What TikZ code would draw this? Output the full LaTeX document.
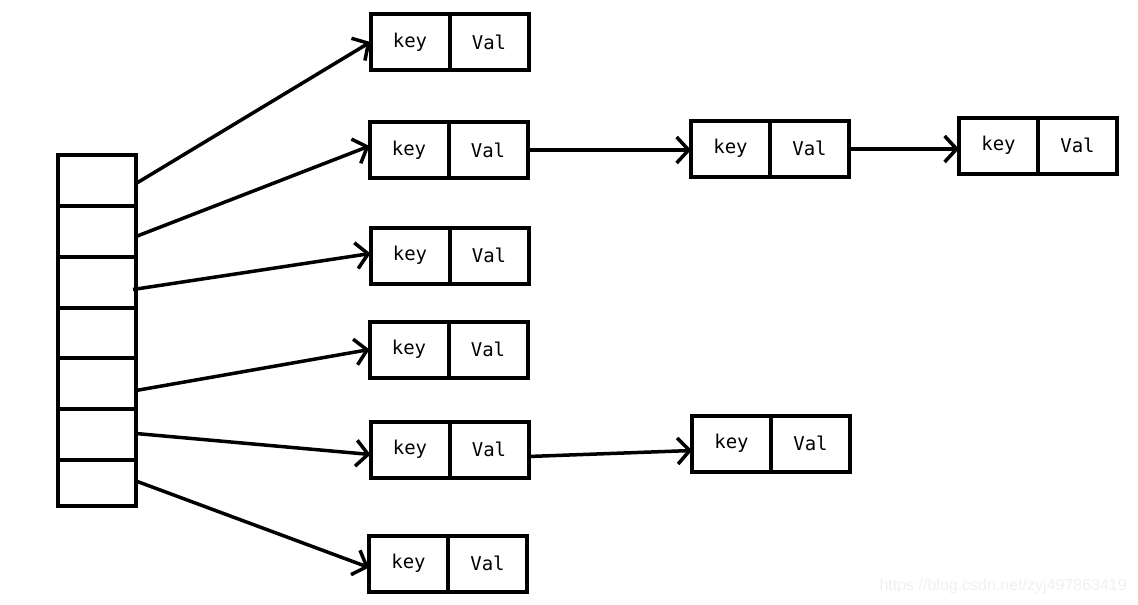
\documentclass[tikz,border=0pt]{standalone}
\usepackage{fontspec}
\newfontfamily\cellfont{DejaVu Sans Mono}
\newfontfamily\wmfont{Liberation Sans}
\usetikzlibrary{arrows.meta,calc}
\begin{document}
\begin{tikzpicture}[x=1pt,y=-1pt,
  cell/.style={draw,line width=4pt,minimum width=79pt,minimum height=56pt,inner sep=0pt,outer sep=0pt,font=\cellfont\fontsize{19}{19}\selectfont},
  slot/.style={draw,line width=4pt,minimum width=78pt,inner sep=0pt,outer sep=0pt},
  link/.style={line width=3.5pt,-{Straight Barb[length=12pt,width=26pt]}}]
\useasboundingbox (0,0) rectangle (1138,605);
% array
\node[slot,minimum height=51pt] (a1) at (97,180.5) {};
\node[slot,minimum height=51pt] (a2) at (97,231.5) {};
\node[slot,minimum height=51pt] (a3) at (97,282.5) {};
\node[slot,minimum height=50pt] (a4) at (97,333) {};
\node[slot,minimum height=51pt] (a5) at (97,383.5) {};
\node[slot,minimum height=51pt] (a6) at (97,434.5) {};
\node[slot,minimum height=46pt] (a7) at (97,483) {};
% key/val boxes
\node[cell] (k1) at (410,42) {key};
\node[cell,anchor=west] (v1) at (k1.east) {Val};
\node[cell] (k2) at (409,150) {key};
\node[cell,anchor=west] (v2) at (k2.east) {Val};
\node[cell] (k3) at (410,255.5) {key};
\node[cell,anchor=west] (v3) at (k3.east) {Val};
\node[cell] (k4) at (409,349.5) {key};
\node[cell,anchor=west] (v4) at (k4.east) {Val};
\node[cell] (k5) at (410,449.5) {key};
\node[cell,anchor=west] (v5) at (k5.east) {Val};
\node[cell] (k6) at (408.5,563.5) {key};
\node[cell,anchor=west] (v6) at (k6.east) {Val};
\node[cell] (k7) at (730.5,148.5) {key};
\node[cell,anchor=west] (v7) at (k7.east) {Val};
\node[cell] (k8) at (998.5,145.5) {key};
\node[cell,anchor=west] (v8) at (k8.east) {Val};
\node[cell] (k9) at (731.5,443.5) {key};
\node[cell,anchor=west] (v9) at (k9.east) {Val};
% connectors
\draw[link] ([yshift=-3pt]a1.east) -- (k1.west);
\draw[link] ([yshift=-5pt]a2.east) -- ([yshift=4pt]k2.west);
\draw[link] ([xshift=-3pt,yshift=-7pt]a3.east) -- ([yshift=2pt]k3.west);
\draw[link] ([yshift=-7pt]a5.east) -- (k4.west);
\draw[link] ([yshift=1pt]a6.east) -- ([yshift=-5pt]k5.west);
\draw[link] ([yshift=2pt]a7.east) -- ([yshift=-4pt]k6.west);
\draw[link] (v2.east) -- (v2.east -| k7.west);
\draw[link] ([yshift=-0.5pt]v7.east) -- ([yshift=-0.5pt]v7.east -| k8.west);
\draw[link] ([yshift=-7pt]v5.east) -- ([yshift=-7pt]k9.west);
% watermark
\node[anchor=east,text=black!6,font=\wmfont\fontsize{16}{16}\selectfont,inner sep=0pt] (wm) at (1127,586) {https://blog.csdn.net/zyj497863419};
\end{tikzpicture}
\end{document}
